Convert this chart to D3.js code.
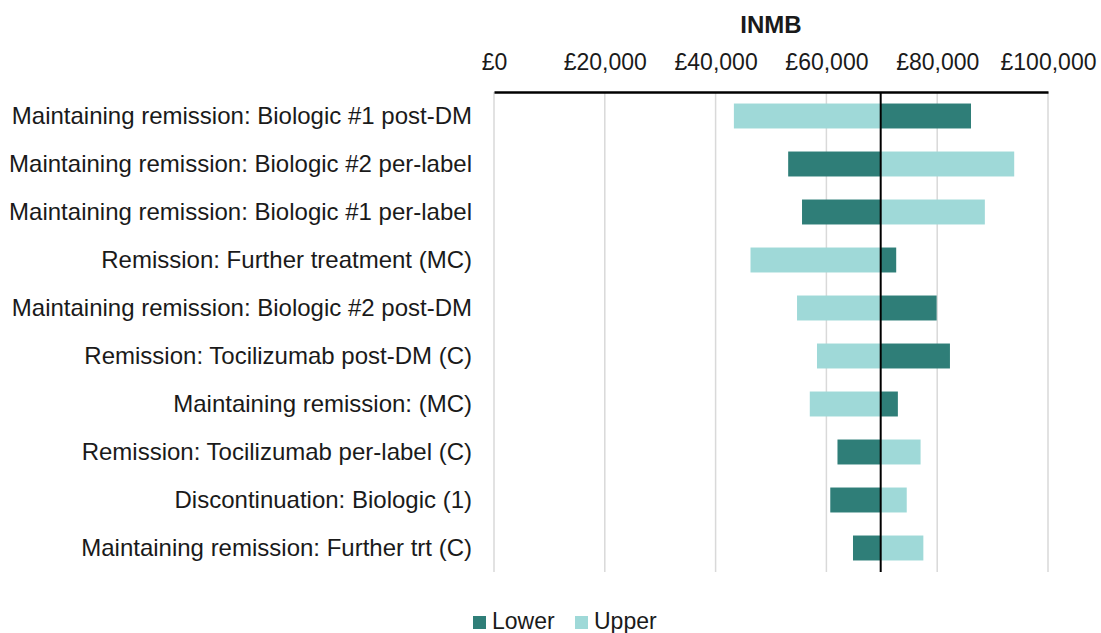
<!DOCTYPE html>
<html lang="en">
<head>
  <meta charset="UTF-8" />
  <title>INMB tornado</title>
  <script src="https://d3js.org/d3.v7.min.js"></script>
  <style>
    body { margin: 0; background: #fff; font-family: "Liberation Sans", Arial, sans-serif; }
    svg { display: block; }
  </style>
</head>
<body>
  <svg width="1101" height="633"></svg>
  <script>
    const categories = [
      "Maintaining remission: Biologic #1 post-DM",
      "Maintaining remission: Biologic #2 per-label",
      "Maintaining remission: Biologic #1 per-label",
      "Remission: Further treatment (MC)",
      "Maintaining remission: Biologic #2 post-DM",
      "Remission: Tocilizumab post-DM (C)",
      "Maintaining remission: (MC)",
      "Remission: Tocilizumab per-label (C)",
      "Discontinuation: Biologic (1)",
      "Maintaining remission: Further trt (C)"
    ];
    const baseValue = 69800;
    const lowerValues = [86100, 53100, 55600, 72600, 79900, 82300, 72900, 62000, 60700, 64800];
    const upperValues = [43300, 93900, 88600, 46300, 54700, 58300, 57000, 77000, 74500, 77500];
    const tickValues = [0, 20000, 40000, 60000, 80000, 100000];
    const seriesNames = ["Lower", "Upper"];
    const colors = { Lower: "#2f7e78", Upper: "#9fd9d8" };

    const svg = d3.select("svg");
    const margin = { top: 92, left: 494, right: 53, bottom: 61 };
    const width = 1101 - margin.left - margin.right;
    const height = 633 - margin.top - margin.bottom;
    const g = svg.append("g").attr("transform", `translate(${margin.left},${margin.top})`);

    const x = d3.scaleLinear().domain([0, 100000]).range([0, width]);
    const y = d3.scaleBand().domain(categories).range([0, height]).paddingInner(0.48).paddingOuter(0.24);

    // gridlines
    g.selectAll(".grid")
      .data(tickValues)
      .enter().append("line")
      .attr("x1", d => x(d)).attr("x2", d => x(d))
      .attr("y1", 0).attr("y2", height)
      .attr("stroke", "#d9d9d9").attr("stroke-width", 1.5);

    const rows = categories.map((c, i) => ({ cat: c, Lower: lowerValues[i], Upper: upperValues[i] }));

    seriesNames.forEach(s => {
      g.selectAll(".bar-" + s)
        .data(rows)
        .enter().append("rect")
        .attr("x", d => x(Math.min(d[s], baseValue)))
        .attr("width", d => Math.abs(x(d[s]) - x(baseValue)))
        .attr("y", d => y(d.cat))
        .attr("height", y.bandwidth())
        .attr("fill", colors[s]);
    });

    // base line
    g.append("line")
      .attr("x1", x(baseValue)).attr("x2", x(baseValue))
      .attr("y1", 0).attr("y2", height)
      .attr("stroke", "#000").attr("stroke-width", 2);

    // top axis
    const xAxis = d3.axisTop(x)
      .tickValues(tickValues)
      .tickSize(0)
      .tickPadding(22)
      .tickFormat(d => "£" + d3.format(",")(d));
    const ax = g.append("g").call(xAxis);
    ax.select(".domain").attr("stroke", "#000").attr("stroke-width", 2.5);
    ax.selectAll("text")
      .attr("font-size", 23)
      .attr("font-family", "Liberation Sans, Arial, sans-serif")
      .attr("fill", "#1a1a1a");

    svg.append("text")
      .attr("x", margin.left + width / 2)
      .attr("y", 33)
      .attr("text-anchor", "middle")
      .attr("font-size", 24)
      .attr("font-weight", "bold")
      .attr("fill", "#1a1a1a")
      .text("INMB");

    // category labels
    g.selectAll(".cat")
      .data(categories)
      .enter().append("text")
      .attr("x", -22)
      .attr("y", d => y(d) + y.bandwidth() / 2)
      .attr("dy", "0.35em")
      .attr("text-anchor", "end")
      .attr("font-size", 24)
      .attr("fill", "#1a1a1a")
      .text(d => d);

    // legend
    const legend = svg.append("g").attr("transform", "translate(473, 629)");
    const legendX = [0, 102];
    seriesNames.forEach((s, i) => {
      legend.append("rect")
        .attr("x", legendX[i]).attr("y", -13)
        .attr("width", 13).attr("height", 13)
        .attr("fill", colors[s]);
      legend.append("text")
        .attr("x", legendX[i] + 19).attr("y", 0)
        .attr("font-size", 23)
        .attr("fill", "#1a1a1a")
        .text(s);
    });
  </script>
</body>
</html>
